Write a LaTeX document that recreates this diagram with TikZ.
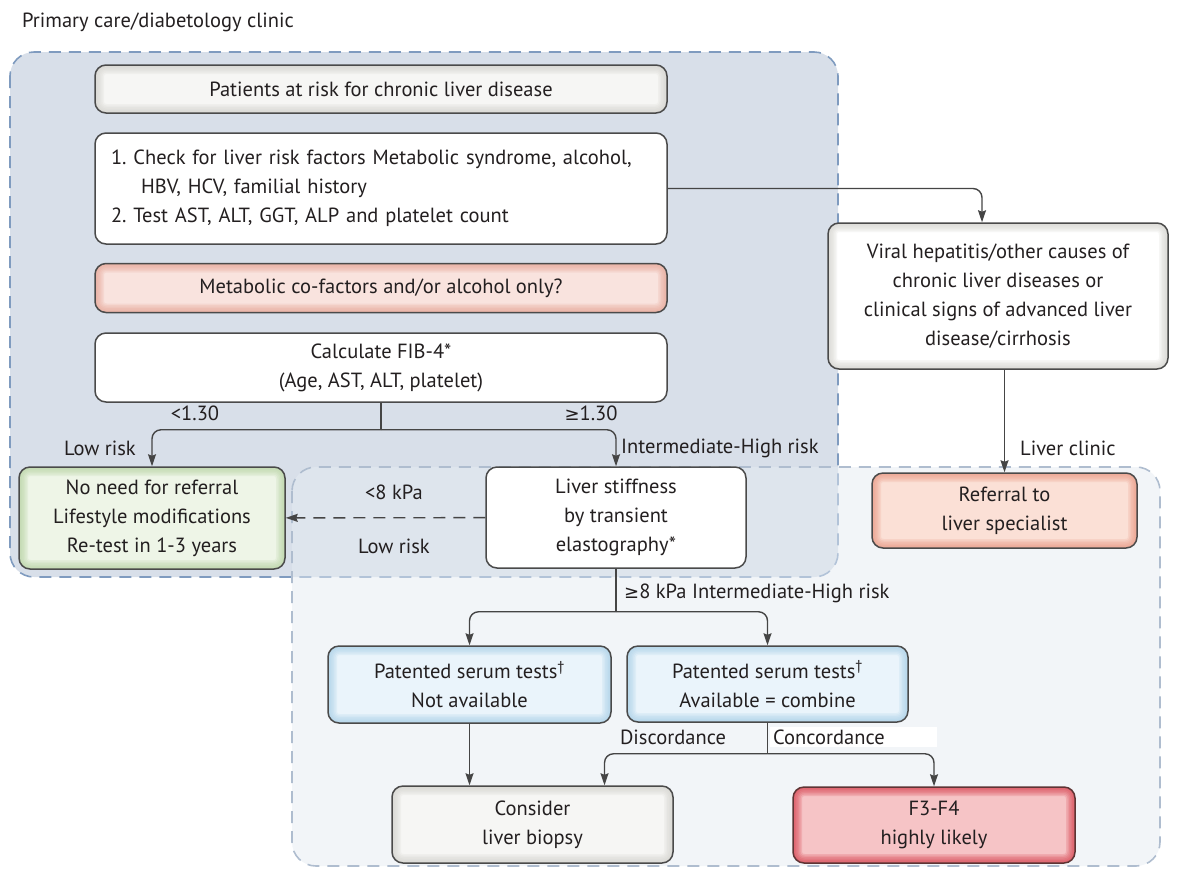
\documentclass[tikz,border=0pt]{standalone}
\usepackage{fontspec}
\setmainfont{PT Sans}
\newfontfamily\symfont{DejaVu Sans}
\frenchspacing
\usetikzlibrary{arrows.meta}

\definecolor{ink}{HTML}{231F20}
\definecolor{edgecol}{HTML}{4A4A4A}
\definecolor{linkcol}{HTML}{454545}
\definecolor{regA}{HTML}{D8DFE9}
\definecolor{regAline}{HTML}{7F9BBF}
\definecolor{regB}{HTML}{E5EBF2}
\definecolor{regBline}{HTML}{AFBDCF}
\definecolor{greyfill}{HTML}{F6F6F4}
\definecolor{greyglow}{HTML}{D2D1CB}
\definecolor{pinkfill}{HTML}{F9E3DE}
\definecolor{pinkglow}{HTML}{E6A393}
\definecolor{greenfill}{HTML}{EEF5E7}
\definecolor{greenglow}{HTML}{B5D2A0}
\definecolor{salmonfill}{HTML}{FBE0D6}
\definecolor{salmonglow}{HTML}{E99580}
\definecolor{bluefill}{HTML}{EAF4FB}
\definecolor{blueglow}{HTML}{A6CEE7}
\definecolor{redfill}{HTML}{F6C4C6}
\definecolor{redglow}{HTML}{D63E4B}
\definecolor{redline}{HTML}{5E3434}

\begin{document}
\begin{tikzpicture}[x=1pt, y=-1pt,
  every node/.style={font=\fontsize{20.5}{29}\selectfont, text=ink},
  box/.style={draw=edgecol, line width=1.5pt, rounded corners=11pt, align=center, inner sep=0pt},
  wh/.style 2 args={minimum width=#1pt, minimum height=#2pt},
  glow/.style={path picture={
    \foreach \w in {3,6,...,18}
      \draw[#1, draw opacity=.18, line width=\w pt, rounded corners=11pt]
        (path picture bounding box.south west) rectangle (path picture bounding box.north east);}},
  link/.style={draw=linkcol, line width=1.4pt, rounded corners=9pt},
  arr/.style={link, -{Stealth[length=12pt, width=8pt, inset=1.5pt]}},
  lbl/.style={inner sep=0pt},
  region/.style={rounded corners=24pt, dash pattern=on 12pt off 8pt, line width=1.6pt}]
\useasboundingbox (0,0) rectangle (1177,871);

% clinic areas
\fill[regA, rounded corners=24pt] (10,52) rectangle (838,577);
\draw[region, draw=regAline] (10,52) rectangle (838,577);
\fill[regB, fill opacity=.5, rounded corners=24pt] (292,467) rectangle (1160,866);
\draw[region, draw=regBline] (292,467) rectangle (1160,866);

\node[lbl, anchor=west] (title) at (22,22) {Primary care/diabetology clinic};

% primary care
\node[box, fill=greyfill, glow=greyglow, wh={572}{48}] (patients) at (381,89) {Patients at risk for chronic liver disease};
\node[box, fill=white, wh={572}{111}, align=left, text width=540pt] (check) at (381,188.5)
  {1. Check for liver risk factors Metabolic syndrome, alcohol,\\\hspace*{30pt}HBV, HCV, familial history\\2. Test AST, ALT, GGT, ALP and platelet count};
\node[box, fill=pinkfill, glow=pinkglow, wh={572}{49}] (meta) at (381,288) {Metabolic co-factors and/or alcohol only?};
\node[box, fill=white, wh={572}{69}] (fib) at (381,367.5) {Calculate FIB-4*\\(Age, AST, ALT, platelet)};
\node[box, fill=greenfill, glow=greenglow, wh={266}{102}] (green) at (152,518) {No need for referral\\Lifestyle modifications\\Re-test in 1-3 years};
\node[box, fill=white, wh={260}{101}] (stiff) at (616,517.5) {Liver stiffness\\by transient\\elastography*};

% liver clinic
\node[box, fill=white, glow=greyglow, wh={340}{146}] (viral) at (998,296) {Viral hepatitis/other causes of\\chronic liver diseases or\\clinical signs of advanced liver\\disease/cirrhosis};
\node[box, fill=salmonfill, glow=salmonglow, wh={265}{75}] (referral) at (1004.5,510.5) {Referral to\\liver specialist};
\node[box, fill=bluefill, glow=blueglow, wh={283}{77}] (serum1) at (469.5,684.5) {Patented serum tests\textsuperscript{†}\\Not available};
\node[box, fill=bluefill, glow=blueglow, wh={281}{76}] (serum2) at (767.5,684) {Patented serum tests\textsuperscript{†}\\Available = combine};
\node[box, fill=greyfill, glow=greyglow, wh={281}{77}] (biopsy) at (532.5,824.5) {Consider\\liver biopsy};
\node[box, draw=redline, fill=redfill, glow=redglow, wh={282}{76}] (severe) at (934,825) {F3-F4\\highly likely};

% connectors
\coordinate (fibsplit) at ([yshift=-27pt]fib.south);
\coordinate (kpasplit) at ([yshift=-43pt]stiff.south);
\coordinate (concsplit) at ([yshift=-31pt]serum2.south);
\draw[arr] (check) -| ([xshift=-16pt]viral.north);
\draw[link] (fib) -- (fibsplit);
\draw[arr] (fibsplit) -| (green);
\draw[arr] (fibsplit) -| (stiff);
\draw[arr, dash pattern=on 12pt off 8pt] (stiff) -- (green);
\draw[arr] (viral.south -| referral.north) -- (referral);
\draw[link] (stiff) -- (kpasplit);
\draw[arr] (kpasplit) -| (serum1);
\draw[arr] (kpasplit) -| (serum2);
\draw[arr] (serum1) -- (serum1 |- biopsy.north);
\draw[link] (serum2) -- (concsplit);
\draw[arr] (concsplit) -| ([xshift=72pt]biopsy.north);
\draw[arr] (concsplit) -| (severe);

% labels
\node[lbl] (lowcut) at (195,413) {<1.30};
\node[lbl] (highcut) at (591,413) {{\symfont\fontsize{18}{29}\selectfont ≥}1.30};
\node[lbl] (lowrisk) at (100,448) {Low risk};
\node[lbl, anchor=west] (midrisk) at (621,448) {Intermediate-High risk};
\node[lbl] (kpalow) at (394,492) {<8 kPa};
\node[lbl] (lowrisk2) at (394,546) {Low risk};
\node[lbl, anchor=west] (kpahigh) at (624,593) {{\symfont\fontsize{18}{29}\selectfont ≥}8 kPa Intermediate-High risk};
\node[lbl, anchor=west] (clinic) at (1020,448) {Liver clinic};
\node[lbl] (disc) at (673,737) {Discordance};
\node[lbl, fill=white, anchor=west, minimum height=20pt, align=left, text width=161pt, inner xsep=3pt] (conc) at (770,737) {Concordance};
\end{tikzpicture}
\end{document}
